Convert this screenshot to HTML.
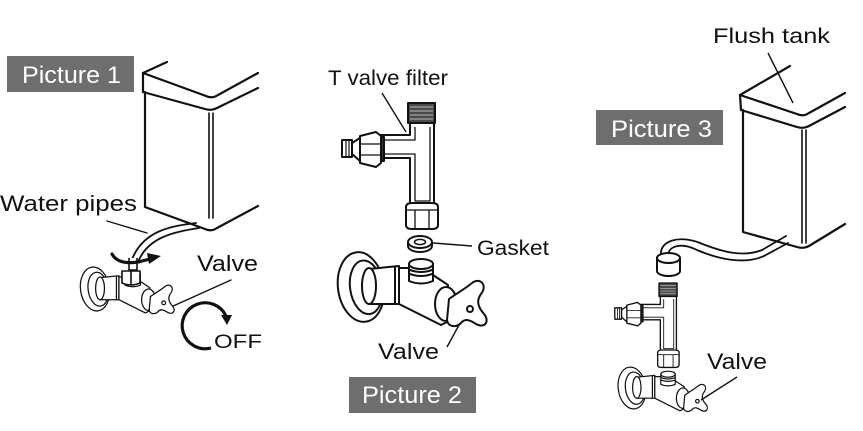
<!DOCTYPE html>
<html><head><meta charset="utf-8"><style>
html,body{margin:0;padding:0;background:#fff;}
svg{display:block;}
text{font-family:"Liberation Sans",Arial,sans-serif;}
</style></head><body>
<svg width="863" height="431" viewBox="0 0 863 431" xmlns="http://www.w3.org/2000/svg">
<defs>
<g id="valve" stroke="#111" stroke-width="2" fill="#fff" stroke-linejoin="round" stroke-linecap="round">
 <ellipse cx="0" cy="0" rx="23" ry="35" transform="rotate(-8)"/>
 <ellipse cx="5" cy="1" rx="16" ry="27" transform="rotate(-8)" fill="none"/>
 <path d="M8,-18 L38,-21 L38,17 L8,17 Z"/>
 <ellipse cx="8" cy="-1" rx="7" ry="18"/>
 <path d="M38,-19 L48,-19 L72,-12 L87,-2 L88,34 L80,38 L38,17 Z"/>
 <line x1="34" y1="-20" x2="34" y2="17"/>
 <path d="M48,-23 L48,-6 Q60,-1 72,-6 L72,-23"/>
 <ellipse cx="60" cy="-23" rx="12" ry="5"/>
 <path d="M49,-17 Q60,-13 71,-17 M49,-13 Q60,-9 71,-13" fill="none"/>
 <ellipse cx="85" cy="17" rx="11" ry="17"/>
 <path d="M88,12 C96,6 104,2 111,-4 C119,-10 127,-2 120,7 C115,14 117,20 123,27 C129,34 124,42 115,37 C109,33 104,31 100,36 C95,41 87,40 86,33 Z"/>
 <circle cx="109" cy="22" r="3"/>
</g>
<g id="tvalve" stroke="#111" stroke-width="2" fill="#fff" stroke-linejoin="round">
 <rect x="0" y="0" width="27" height="20" fill="#4a4a4a"/>
 <g stroke="#bbb" stroke-width="1"><line x1="2" y1="4" x2="25" y2="4"/><line x1="2" y1="8" x2="25" y2="8"/><line x1="2" y1="12" x2="25" y2="12"/><line x1="2" y1="16" x2="25" y2="16"/></g>
 <path d="M2,20 L2,32 L-28,32 L-28,55 L2,55 L2,102 L26,102 L26,20 Z"/>
 <path d="M7,24 L7,37 L-24,37 L-24,51 L7,51 L7,98 L22,98 L22,24" fill="none" stroke-width="1.3"/>
 <rect x="-29" y="34" width="5" height="24" fill="#333"/>
 <path d="M-48,33 L-32,29 L-27,33 L-27,60 L-32,64 L-48,60 Z"/>
 <line x1="-48" y1="41" x2="-27" y2="41" stroke-width="1.2"/>
 <line x1="-48" y1="52" x2="-27" y2="52" stroke-width="1.2"/>
 <path d="M-48,35 L-56,40 L-56,51 L-48,58 Z"/>
 <rect x="-66" y="37" width="10" height="17"/>
 <line x1="-62" y1="37" x2="-62" y2="54" stroke-width="1.2"/>
 <line x1="-59" y1="37" x2="-59" y2="54" stroke-width="1.2"/>
 <path d="M-2,104 Q-2,100 4,100 L24,100 Q30,100 30,104 L30,122 Q30,126 24,126 L4,126 Q-2,126 -2,122 Z"/>
 <line x1="-2" y1="107" x2="30" y2="107" stroke-width="1.3"/>
 <line x1="7" y1="107" x2="7" y2="126" stroke-width="1.3"/>
 <line x1="21" y1="107" x2="21" y2="126" stroke-width="1.3"/>
</g>
</defs>

<!-- Picture 1 -->
<rect x="7" y="56" width="127" height="36" fill="#6e6e6e"/>
<text x="22" y="83" font-size="24" fill="#fff" textLength="99" lengthAdjust="spacingAndGlyphs">Picture 1</text>

<g stroke="#111" stroke-width="2.2" fill="none" stroke-linejoin="round" stroke-linecap="round">
 <path d="M143,73 L167,62"/>
 <path d="M143,73 L143,92"/>
 <path d="M143,73 L206,96 Q212,99 218,95 L258,73"/>
 <path d="M143,92 L205,109 Q211,111 217,108 L258,88"/>
 <path d="M145,92 L145,207 L205,229 Q211,232 217,228 L258,206"/>
 <line x1="209" y1="113" x2="209" y2="218" stroke-width="1.6"/>
 <line x1="213" y1="113" x2="213" y2="218" stroke-width="1.6"/>
 <path d="M196,223 C172,226 142,230 131,262" stroke-width="1.8"/>
 <path d="M199,228 C174,232 148,237 138,262" stroke-width="1.8"/>
 <line x1="107" y1="221" x2="147" y2="233" stroke-width="1.4"/>
 <line x1="231" y1="280" x2="171" y2="307" stroke-width="1.4"/>
</g>
<use href="#valve" transform="translate(95,289) scale(0.63)"/>
<g stroke="#111" stroke-width="1.6" fill="#fff" stroke-linejoin="round">
 <path d="M129,258 L129,270 L137,270 L137,258"/>
 <path d="M122,271 L140,271 L140,283 Q131,287 122,283 Z"/>
 <line x1="131" y1="271" x2="131" y2="285"/>
</g>
<path d="M112,254 Q118,265 138,262 L150,259" stroke="#111" stroke-width="3.2" fill="none" stroke-linecap="round"/>
<polygon points="147,253 161,256 149,264" fill="#111"/>
<path d="M211,348 A23,23 0 1 1 226,316" stroke="#111" stroke-width="3.2" fill="none"/>
<polygon points="221,315 232,315 227,325" fill="#111"/>

<text x="0" y="211" font-size="22" fill="#111" textLength="137" lengthAdjust="spacingAndGlyphs">Water pipes</text>
<text x="197" y="271" font-size="22" fill="#111" textLength="61" lengthAdjust="spacingAndGlyphs">Valve</text>
<text x="214" y="348" font-size="19" fill="#111" textLength="48" lengthAdjust="spacingAndGlyphs">OFF</text>

<!-- Picture 2 -->
<text x="328" y="85" font-size="21" fill="#111" textLength="120" lengthAdjust="spacingAndGlyphs">T valve filter</text>
<line x1="382" y1="93" x2="406" y2="132" stroke="#111" stroke-width="1.4"/>
<use href="#tvalve" transform="translate(408,103)"/>
<g stroke="#111" stroke-width="2" fill="#fff">
 <path d="M408,242 L408,246 A12,6 0 0 0 432,246 L432,242"/>
 <ellipse cx="420" cy="242" rx="12" ry="6"/>
 <ellipse cx="420" cy="242" rx="5.5" ry="2.6" stroke-width="1.5"/>
</g>
<line x1="433" y1="243" x2="472" y2="246" stroke="#111" stroke-width="1.4"/>
<text x="477" y="255" font-size="21" fill="#111" textLength="72" lengthAdjust="spacingAndGlyphs">Gasket</text>
<use href="#valve" transform="translate(361,287)"/>
<line x1="459" y1="325" x2="447" y2="347" stroke="#111" stroke-width="1.4"/>
<text x="378" y="359" font-size="22" fill="#111" textLength="61" lengthAdjust="spacingAndGlyphs">Valve</text>
<rect x="349" y="377" width="127" height="36" fill="#6e6e6e"/>
<text x="362" y="403" font-size="24" fill="#fff" textLength="100" lengthAdjust="spacingAndGlyphs">Picture 2</text>

<!-- Picture 3 -->
<text x="713" y="43" font-size="21" fill="#111" textLength="117" lengthAdjust="spacingAndGlyphs">Flush tank</text>
<line x1="768" y1="53" x2="793" y2="103" stroke="#111" stroke-width="1.4"/>
<rect x="596" y="110" width="127" height="35" fill="#6e6e6e"/>
<text x="611" y="137" font-size="24" fill="#fff" textLength="101" lengthAdjust="spacingAndGlyphs">Picture 3</text>
<g stroke="#111" stroke-width="2.2" fill="none" stroke-linejoin="round" stroke-linecap="round">
 <path d="M740,95 L790,66"/>
 <path d="M740,95 L741,110"/>
 <path d="M740,95 L797,114 Q803,117 809,113 L845,93"/>
 <path d="M741,110 L797,127 Q803,129 809,126 L845,107"/>
 <path d="M743,110 L743,232 L797,247 Q803,249 809,246 L845,224"/>
 <line x1="802" y1="130" x2="802" y2="243" stroke-width="1.6"/>
 <line x1="806" y1="130" x2="806" y2="243" stroke-width="1.6"/>
 <path d="M661,256 C659,240 680,235 700,243 C720,251 742,258 762,250 L786,236" stroke-width="1.8"/>
 <path d="M668,256 C668,246 681,242 697,250 C718,259 744,265 764,256 L788,243" stroke-width="1.8"/>
</g>
<g stroke="#111" stroke-width="2" fill="#fff">
 <path d="M657,258 L657,271 A11.5,5 0 0 0 680,271 L680,258"/>
 <ellipse cx="668.5" cy="258" rx="11.5" ry="5"/>
</g>
<use href="#tvalve" transform="translate(659,283) scale(0.67)"/>
<use href="#valve" transform="translate(632,388) scale(0.6)"/>
<line x1="737" y1="377" x2="701" y2="400" stroke="#111" stroke-width="1.4"/>
<text x="707" y="369" font-size="22" fill="#111" textLength="60" lengthAdjust="spacingAndGlyphs">Valve</text>
</svg>
</body></html>
